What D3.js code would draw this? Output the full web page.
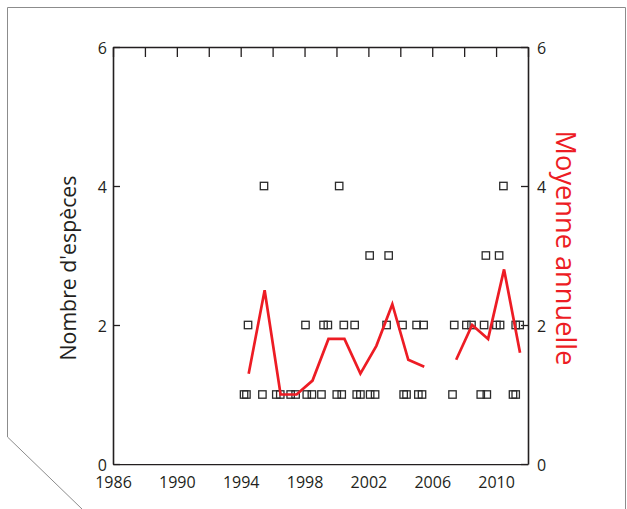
<!DOCTYPE html>
<html>
<head>
<meta charset="utf-8">
<script src="https://cdn.jsdelivr.net/npm/d3@7"></script>
<style>
  html, body { margin: 0; padding: 0; background: #fff; }
  svg { display: block; font-family: "Open Sans", "Noto Sans", sans-serif; }
</style>
</head>
<body>
<svg id="chart" width="627" height="509"></svg>
<script>
// ---- data ----
const sampleYears = [
  1994.21, 1994.36, 1994.46, 1995.36, 1995.46, 1996.23, 1996.48, 1997.13, 1997.44,
  1998.06, 1998.14, 1998.46, 1999.06, 1999.19, 1999.46, 2000.02, 2000.17, 2000.33,
  2000.46, 2001.14, 2001.27, 2001.50, 2002.08, 2002.11, 2002.42, 2003.14, 2003.27,
  2004.14, 2004.21, 2004.39, 2005.02, 2005.13, 2005.36, 2005.46, 2007.27, 2007.38,
  2008.14, 2008.46, 2009.04, 2009.25, 2009.36, 2009.42, 2010.02, 2010.19, 2010.25,
  2010.46, 2011.06, 2011.23, 2011.23, 2011.48
];
const speciesCounts = [
  1, 1, 2, 1, 4, 1, 1, 1, 1,
  2, 1, 1, 1, 2, 2, 1, 4, 1,
  2, 2, 1, 1, 3, 1, 1, 2, 3,
  2, 1, 1, 2, 1, 1, 2, 1, 2,
  2, 2, 1, 2, 3, 1, 2, 3, 2,
  4, 1, 1, 2, 2
];
const meanYears = [1994.5, 1995.5, 1996.5, 1997.5, 1998.5, 1999.5, 2000.5, 2001.5, 2002.5,
  2003.5, 2004.5, 2005.5, 2006.5, 2007.5, 2008.5, 2009.5, 2010.5, 2011.5];
const annualMeans = [1.3, 2.5, 1.0, 1.0, 1.2, 1.8, 1.8, 1.3, 1.7,
  2.3, 1.5, 1.4, null, 1.5, 2.0, 1.8, 2.8, 1.6];
const xTickValues = [1986, 1988, 1990, 1992, 1994, 1996, 1998, 2000, 2002, 2004, 2006, 2008, 2010, 2012];
const xTickLabels = ["1986", "", "1990", "", "1994", "", "1998", "", "2002", "", "2006", "", "2010", ""];
const yTickValues = [0, 2, 4, 6];
const leftTitle = "Nombre d'espèces";
const rightTitle = "Moyenne annuelle";

// ---- layout ----
const svg = d3.select("#chart");
const L = 113, R = 528, T = 47, B = 464;
const RED = "#ed1c24", INK = "#231f20";

const x = d3.scaleLinear().domain([1986, 2012]).range([L, R]);
const y = d3.scaleLinear().domain([0, 6]).range([B, T]);

// page frame
svg.append("path")
  .attr("d", "M82,509 L7.5,437 L7.5,7.5 L625.5,7.5 L625.5,509")
  .attr("fill", "none").attr("stroke", "#8c8c8c").attr("stroke-width", 1);

// clip for bottom labels (cut off in reference)
svg.append("clipPath").attr("id", "labclip")
  .append("rect").attr("x", 0).attr("y", 0).attr("width", 627).attr("height", 487);

function styleAxis(g) {
  g.selectAll("path.domain").attr("stroke", INK).attr("stroke-width", 1.6);
  g.selectAll(".tick line").attr("stroke", INK).attr("stroke-width", 1.3);
  g.selectAll(".tick text").attr("fill", INK).attr("font-size", 16)
    .attr("font-family", "'Open Sans', 'Noto Sans', sans-serif");
}

const fmtX = d => xTickLabels[xTickValues.indexOf(d)];

svg.append("g").attr("transform", `translate(0,${B})`)
  .attr("clip-path", "url(#labclip)")
  .call(d3.axisBottom(x).tickValues(xTickValues).tickFormat(fmtX)
    .tickSizeInner(-10).tickSizeOuter(0).tickPadding(13))
  .call(styleAxis);

svg.append("g").attr("transform", `translate(0,${T})`)
  .call(d3.axisTop(x).tickValues(xTickValues).tickFormat(() => "")
    .tickSizeInner(-10).tickSizeOuter(0))
  .call(styleAxis);

const gl = svg.append("g").attr("transform", `translate(${L},0)`)
  .call(d3.axisLeft(y).tickValues(yTickValues).tickFormat(d3.format("d"))
    .tickSizeInner(-7).tickSizeOuter(0).tickPadding(6))
  .call(styleAxis);
gl.selectAll(".tick text").attr("dy", "0.4em");

const gr = svg.append("g").attr("transform", `translate(${R},0)`)
  .call(d3.axisRight(y).tickValues(yTickValues).tickFormat(d3.format("d"))
    .tickSizeInner(-7).tickSizeOuter(0).tickPadding(9))
  .call(styleAxis);
gr.selectAll(".tick text").attr("dy", "0.4em");

// scatter squares
const S = 7.4;
svg.append("g").selectAll("rect")
  .data(sampleYears.map((d, i) => ({ t: d, v: speciesCounts[i] })))
  .join("rect")
  .attr("x", d => x(d.t) - S / 2)
  .attr("y", d => y(d.v) - S / 2)
  .attr("width", S).attr("height", S)
  .attr("fill", "none").attr("stroke", "#2b2b2b").attr("stroke-width", 1.3);

// annual mean line
const line = d3.line()
  .defined(d => d.v !== null)
  .x(d => x(d.t)).y(d => y(d.v));
svg.append("path")
  .datum(meanYears.map((d, i) => ({ t: d, v: annualMeans[i] })))
  .attr("d", line)
  .attr("fill", "none").attr("stroke", RED).attr("stroke-width", 2.7)
  .attr("stroke-linejoin", "miter");

// titles, sized to the reference widths
function fitTitle(text, cx, cy, rot, width, color) {
  const t = svg.append("text")
    .attr("text-anchor", "middle").attr("dominant-baseline", "central")
    .attr("font-size", 20).attr("fill", color)
    .attr("transform", `translate(${cx},${cy}) rotate(${rot})`)
    .text(text);
  const w = t.node().getComputedTextLength();
  t.attr("font-size", 20 * width / w);
}
fitTitle(leftTitle, 67, 268, -90, 185, INK);
fitTitle(rightTitle, 566, 248, 90, 235, RED);
</script>
</body>
</html>
